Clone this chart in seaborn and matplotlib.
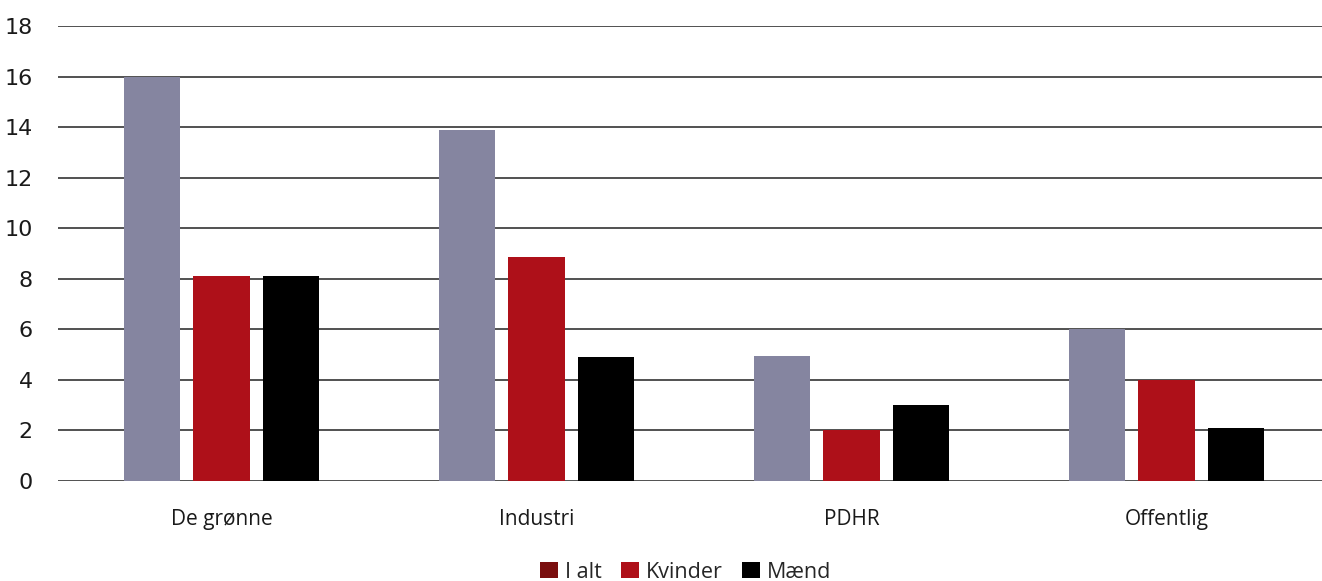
import matplotlib
matplotlib.use("Agg")
import matplotlib.pyplot as plt
from matplotlib.patches import Patch
import seaborn as sns
import pandas as pd

categories = ["De grønne", "Industri", "PDHR", "Offentlig"]
series = ["I alt", "Kvinder", "Mænd"]
i_alt = [16.0, 13.9, 4.95, 6.0]
kvinder = [8.1, 8.85, 2.0, 4.0]
maend = [8.1, 4.9, 3.0, 2.1]
y_ticks = [0, 2, 4, 6, 8, 10, 12, 14, 16, 18]

bar_colors = ["#8585a0", "#ae1019", "#000000"]
legend_colors = ["#7a0e0e", "#ae1019", "#000000"]

rows = []
for s, vals in zip(series, [i_alt, kvinder, maend]):
    for c, v in zip(categories, vals):
        rows.append({"Kategori": c, "Serie": s, "Værdi": v})
df = pd.DataFrame(rows)

sns.set_theme(style="white")
plt.rcParams["font.family"] = ["Open Sans", "DejaVu Sans"]

fig = plt.figure(figsize=(13.22, 5.81), dpi=100)
ax = fig.add_axes([58 / 1322, 100 / 581, 1 - 58 / 1322, 455 / 581])

sns.barplot(data=df, x="Kategori", y="Værdi", hue="Serie", order=categories,
            hue_order=series, palette=bar_colors, width=0.662, gap=0.19,
            saturation=1, errorbar=None, legend=False, ax=ax, zorder=3,
            linewidth=0, edgecolor="none")

ax.set_ylim(0, 18)
ax.set_xlim(-0.519, 3.494)
ax.set_yticks(y_ticks)
ax.set_yticklabels([str(t) for t in y_ticks], fontsize=16, family="DejaVu Sans", color="#1a1a1a")
ax.set_xticks(range(len(categories)))
ax.set_xticklabels(categories, fontsize=15, color="#1a1a1a")
ax.tick_params(axis="both", length=0)
ax.tick_params(axis="y", pad=18)
ax.tick_params(axis="x", pad=20)
ax.set_xlabel("")
ax.set_ylabel("")
for sp in ax.spines.values():
    sp.set_visible(False)
ax.yaxis.grid(True, color="#222222", linewidth=1.1, zorder=0)
ax.set_axisbelow(True)

handles = [Patch(facecolor=c, edgecolor="none") for c in legend_colors]
fig.legend(handles, series, loc="center", bbox_to_anchor=(686 / 1322, 1 - 572 / 581),
           ncol=3, frameon=False, fontsize=15.5, handlelength=0.8, handleheight=0.8,
           handletextpad=0.35, columnspacing=0.9, borderaxespad=0)

fig.savefig("out.png", dpi=100)
